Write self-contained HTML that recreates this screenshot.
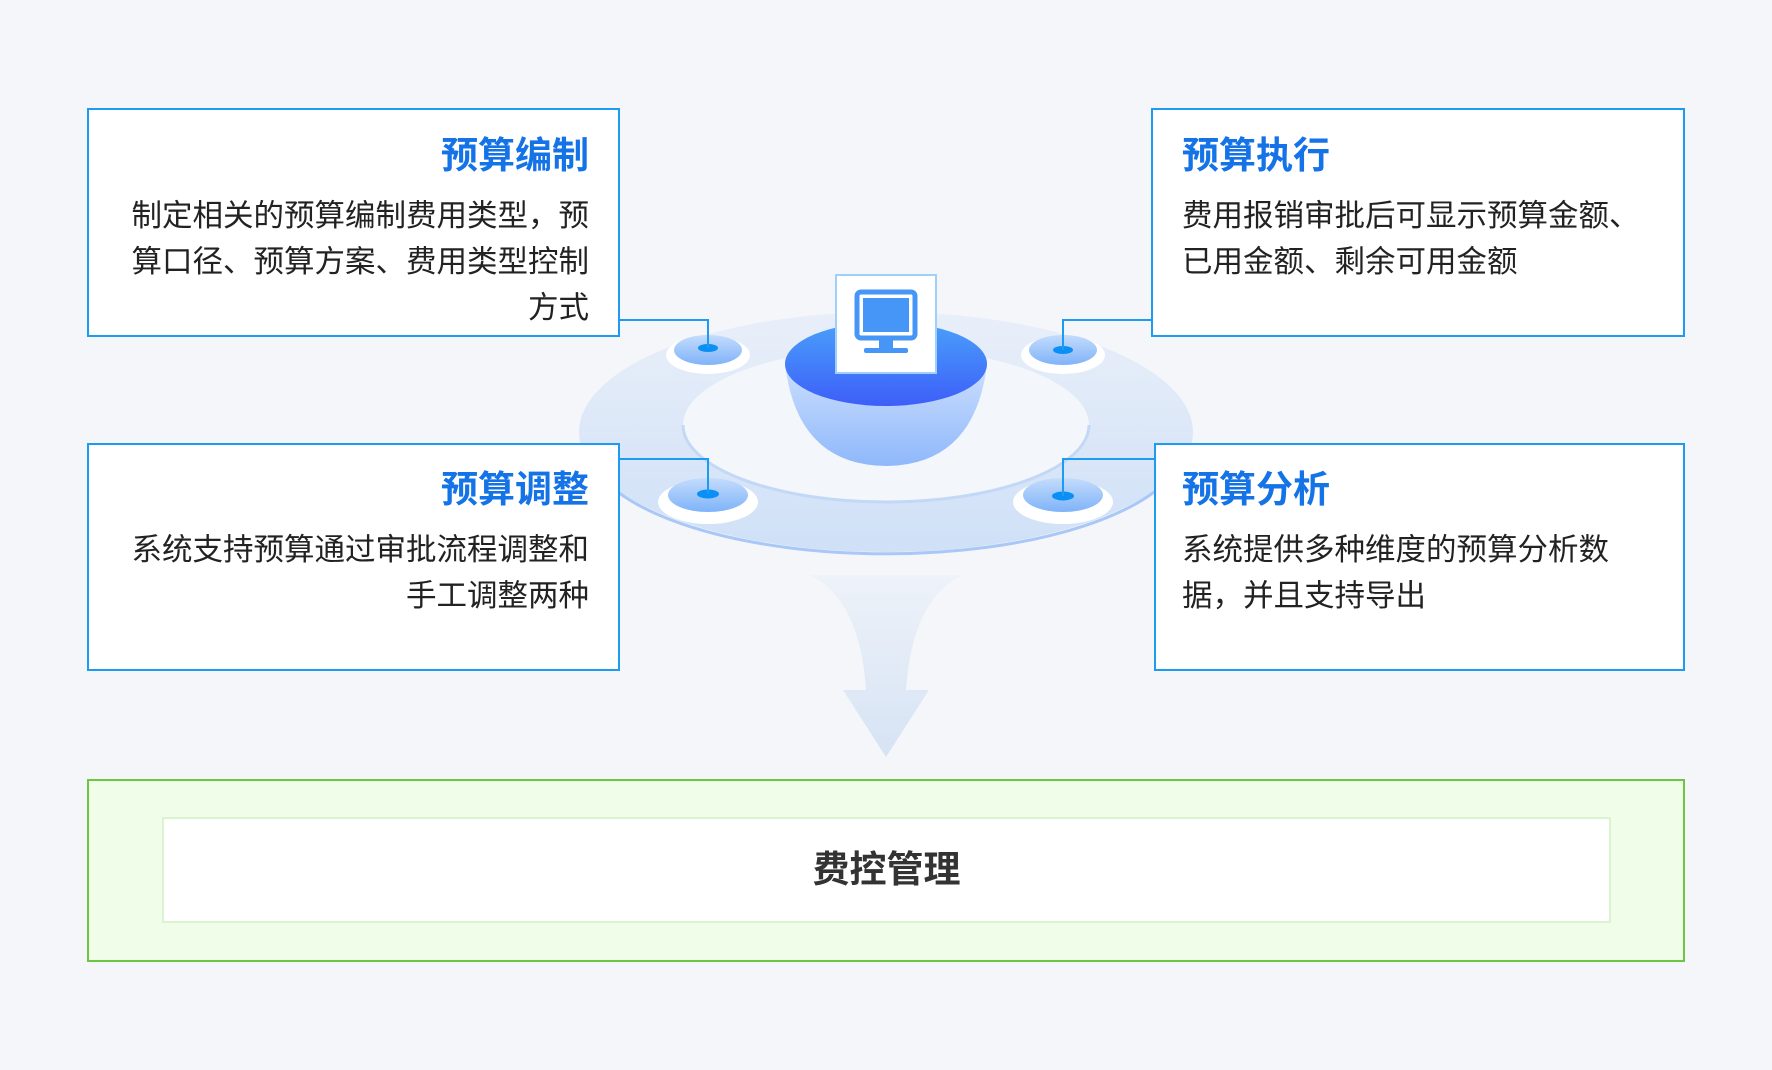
<!DOCTYPE html>
<html><head><meta charset="utf-8"><style>
body{margin:0;width:1772px;height:1070px;overflow:hidden;background:#f4f6fa;font-family:"Liberation Sans","Noto Sans CJK SC",sans-serif;position:relative}
.box{position:absolute;background:#fff;border:2px solid #1c9bf0;box-sizing:border-box}
.t{position:absolute;font-size:37px;font-weight:bold;color:#1473e6;line-height:46px}
.b{position:absolute;font-size:30.5px;color:#222;line-height:46px}
</style></head><body>
<svg width="1772" height="1070" style="position:absolute;left:0;top:0">
<defs>
<linearGradient id="bowl" x1="0" y1="0" x2="0" y2="1"><stop offset="0" stop-color="#e6efff"/><stop offset="1" stop-color="#8fb8fb"/></linearGradient>
<linearGradient id="top" x1="0" y1="0" x2="0" y2="1"><stop offset="0" stop-color="#4aa0fb"/><stop offset="1" stop-color="#3d5ef8"/></linearGradient>
<linearGradient id="dot" x1="0" y1="0" x2="0" y2="1"><stop offset="0" stop-color="#c4dcfc"/><stop offset="1" stop-color="#7fb3f9"/></linearGradient>
<linearGradient id="fun" x1="0" y1="0" x2="0" y2="1"><stop offset="0" stop-color="#eef2f9"/><stop offset="1" stop-color="#d6e3f4"/></linearGradient>
<linearGradient id="ring" x1="0" y1="0" x2="0" y2="1"><stop offset="0" stop-color="#e9eff9"/><stop offset="1" stop-color="#cfe0f7"/></linearGradient>
</defs>
<path d="M810 575 Q860 600 866 690 L843 690 L886 757 L929 690 L906 690 Q912 600 962 575 Z" fill="url(#fun)"/>
<ellipse cx="886" cy="432" rx="307" ry="120" fill="url(#ring)"/>
<path d="M590 460 A300 112 0 0 0 1182 460" fill="none" stroke="#a9c8f7" stroke-width="3"/>
<ellipse cx="886" cy="425" rx="203" ry="77" fill="#f3f6fb"/>
<path d="M683 425 A203 77 0 0 0 1089 425" fill="none" stroke="#c3d8f7" stroke-width="3"/>
<path d="M785 364 A101 42 0 0 1 987 364 Q975 465 886 466 Q797 465 785 364 Z" fill="url(#bowl)"/>
<ellipse cx="886" cy="364" rx="101" ry="42" fill="url(#top)"/>
<rect x="836" y="275" width="100" height="98" fill="#fff" stroke="#9ed0fb" stroke-width="2"/>
<rect x="857" y="292" width="58" height="46" rx="4" fill="none" stroke="#4596f7" stroke-width="5"/>
<rect x="863" y="298" width="46" height="34" fill="#4596f7"/>
<rect x="879" y="340" width="14" height="9" fill="#4596f7"/>
<rect x="864" y="348" width="44" height="5" rx="2" fill="#4596f7"/>
<g>
<ellipse cx="708" cy="355" rx="42" ry="19" fill="#fff"/><ellipse cx="708" cy="350" rx="34" ry="15" fill="url(#dot)"/><ellipse cx="708" cy="348" rx="10" ry="4" fill="#0a8ff5"/>
<ellipse cx="1063" cy="355" rx="42" ry="19" fill="#fff"/><ellipse cx="1063" cy="350" rx="34" ry="15" fill="url(#dot)"/><ellipse cx="1063" cy="350" rx="10" ry="4" fill="#0a8ff5"/>
<ellipse cx="708" cy="502" rx="50" ry="22" fill="#fff"/><ellipse cx="708" cy="495" rx="40" ry="17" fill="url(#dot)"/><ellipse cx="708" cy="494" rx="11" ry="4.5" fill="#0a8ff5"/>
<ellipse cx="1063" cy="502" rx="50" ry="22" fill="#fff"/><ellipse cx="1063" cy="495" rx="40" ry="17" fill="url(#dot)"/><ellipse cx="1063" cy="496" rx="11" ry="4.5" fill="#0a8ff5"/>
</g>
<g fill="none" stroke="#1c9bf0" stroke-width="2">
<path d="M619 320 H708 V348"/><path d="M1151 320 H1063 V350"/>
<path d="M619 459 H708 V494"/><path d="M1154 459 H1063 V496"/>
</g>
</svg>
<div class="box" style="left:87px;top:108px;width:533px;height:229px"></div>
<div class="t" style="left:87px;top:133px;width:502px;text-align:right">预算编制</div>
<div class="b" style="left:120px;top:193px;width:469px;text-align:right">制定相关的预算编制费用类型，预<br>算口径、预算方案、费用类型控制<br>方式</div>
<div class="box" style="left:1151px;top:108px;width:534px;height:229px"></div>
<div class="t" style="left:1182px;top:133px">预算执行</div>
<div class="b" style="left:1182px;top:193px">费用报销审批后可显示预算金额、<br>已用金额、剩余可用金额</div>
<div class="box" style="left:87px;top:443px;width:533px;height:228px"></div>
<div class="t" style="left:87px;top:467px;width:502px;text-align:right">预算调整</div>
<div class="b" style="left:100px;top:527px;width:489px;text-align:right">系统支持预算通过审批流程调整和<br>手工调整两种</div>
<div class="box" style="left:1154px;top:443px;width:531px;height:228px"></div>
<div class="t" style="left:1182px;top:467px">预算分析</div>
<div class="b" style="left:1182px;top:527px">系统提供多种维度的预算分析数<br>据，并且支持导出</div>
<div class="box" style="left:87px;top:779px;width:1598px;height:183px;background:#effde9;border-color:#6cc644"></div>
<div style="position:absolute;left:162px;top:817px;width:1449px;height:106px;background:#fff;border:2px solid #dcf3d2;box-sizing:border-box;text-align:center;line-height:102px;font-size:37px;font-weight:bold;color:#333">费控管理</div>
</body></html>
